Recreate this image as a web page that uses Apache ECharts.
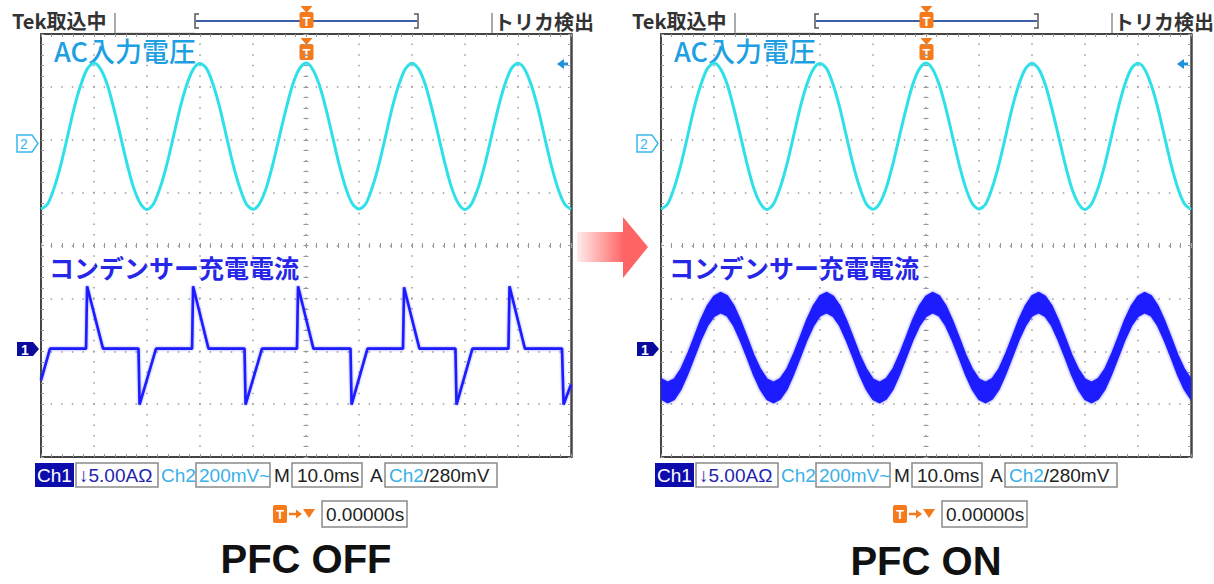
<!DOCTYPE html>
<html><head><meta charset="utf-8">
<script src="https://cdn.jsdelivr.net/npm/echarts@6/dist/echarts.min.js"></script>
<style>html,body{margin:0;padding:0;background:#fff}#c{width:1214px;height:584px}</style>
</head><body><div id="c"></div>
<script>
// ---------------- data ----------------
const sampleTimesMs = [-50,-48.75,-47.5,-46.25,-45,-43.75,-42.5,-41.25,-40,-38.75,-37.5,-36.25,-35,-33.75,-32.5,-31.25,-30,-28.75,-27.5,-26.25,-25,-23.75,-22.5,-21.25,-20,-18.75,-17.5,-16.25,-15,-13.75,-12.5,-11.25,-10,-8.75,-7.5,-6.25,-5,-3.75,-2.5,-1.25,0,1.25,2.5,3.75,5,6.25,7.5,8.75,10,11.25,12.5,13.75,15,16.25,17.5,18.75,20,21.25,22.5,23.75,25,26.25,27.5,28.75,30,31.25,32.5,33.75,35,36.25,37.5,38.75,40,41.25,42.5,43.75,45,46.25,47.5,48.75,50];
// Ch2: AC input voltage (mV, relative to Ch2 ground marker) - same in both panels
const ch2AcVoltageMv = [-252,-233,-171,-84,22,130,217,279,300,277,219,128,24,-82,-173,-231,-254,-232,-170,-83,23,131,218,277,298,279,217,130,22,-84,-171,-233,-253,-231,-172,-82,24,128,219,278,300,277,218,129,23,-83,-172,-232,-252,-233,-171,-84,22,130,217,278,299,278,219,128,24,-82,-173,-231,-254,-232,-171,-83,23,129,218,279,299,277,217,130,22,-84,-172,-232,-253];
// Ch1 PFC ON: capacitor charge current, centre of the switching-ripple band (A)
const ch1PfcOnCenterA = [-3.8,-4.15,-3.85,-2.9,-1.5,0.1,1.75,3.1,4.0,4.35,4.05,3.1,1.7,0.1,-1.55,-2.9,-3.85,-4.15,-3.8,-2.9,-1.5,0.1,1.75,3.1,4.05,4.35,4.0,3.1,1.7,0.1,-1.55,-2.9,-3.85,-4.15,-3.8,-2.9,-1.5,0.1,1.75,3.1,4.0,4.35,4.05,3.1,1.7,0.1,-1.55,-2.9,-3.85,-4.15,-3.8,-2.9,-1.5,0.1,1.75,3.1,4.05,4.35,4.0,3.1,1.7,0.1,-1.55,-2.9,-3.85,-4.15,-3.8,-2.9,-1.5,0.1,1.75,3.1,4.0,4.35,4.05,3.1,1.7,0.1,-1.55,-2.9,-3.85];
const ch1PfcOnRippleA = 0.95; // half height of the ripple band
// Ch1 PFC OFF: capacitor charge current (A)
const ch1PfcOffTimesMs = [-50,-48.3,-41.5,-41.3,-38.3,-31.6,-31.4,-28.3,-21.5,-21.3,-18.4,-11.6,-11.4,-8.3,-1.7,-1.5,1.4,8.4,8.6,11.6,18.3,18.5,21.4,28.2,28.4,31.4,38.2,38.4,41.3,48.3,48.6,50];
const ch1PfcOffCurrentA = [-3.0,0,0,5.9,0,0,-5.3,0,0,5.9,0,0,-5.3,0,0,5.9,0,0,-5.3,0,0,5.8,0,0,-5.3,0,0,5.9,0,0,-5.3,-3.4];

const panelTitles = ['PFC OFF', 'PFC ON'];
const traceLabels = ['AC入力電圧', 'コンデンサー充電電流'];
const headerLeft = 'Tek取込中';
const headerRight = 'トリカ検出';
const ch1Scale = '↓5.00AΩ';
const ch2Scale = '200mV~';
const timebase = '10.0ms';
const triggerLevel = '/280mV';
const triggerDelay = '0.00000s';

// scope settings
const msPerDiv = 10, ch2MvPerDiv = 200, ch1APerDiv = 5;
const ch2PosDiv = 1.95, ch1PosDiv = -1.95;

// ---------------- layout ----------------
const PANEL_DX = 620, G_LEFT = 41, G_TOP = 34, G_W = 530, G_H = 423;
const CH2_COLOR = '#2fe0e9', CH1_COLOR = '#1c1cff';
const FRAME = '#454545', DOT = '#9a9a9a', TICK = '#9a9a9a';
const FONT = "'Liberation Sans','Noto Sans CJK JP',sans-serif";
const JFONT = "'Noto Sans CJK JP','Liberation Sans',sans-serif";

const grids = [], xAxes = [], yAxes = [], series = [], graphics = [];

function tickSet(len) {
  return {
    axisTick: {show: true, inside: true, length: len, lineStyle: {color: TICK, width: 1}},
    minorTick: {show: true, splitNumber: 5, length: len, lineStyle: {color: TICK, width: 1}}
  };
}

// band table for the PFC ON ripple: [time, lower, upper]
const bandRows = sampleTimesMs.map((t, i) => [t, ch1PfcOnCenterA[i] - ch1PfcOnRippleA, ch1PfcOnCenterA[i] + ch1PfcOnRippleA]);

for (let p = 0; p < 2; p++) {
  const dx = PANEL_DX * p;
  grids.push({left: G_LEFT + dx, top: G_TOP, width: G_W, height: G_H, show: false, outerBoundsMode: 'none'});
  const xBase = {gridIndex: p, type: 'value', min: -5 * msPerDiv, max: 5 * msPerDiv, interval: msPerDiv, axisLabel: {show: false}};
  xAxes.push(Object.assign({}, xBase, {position: 'bottom',
    axisLine: {show: true, onZero: false, lineStyle: {color: FRAME, width: 2}},
    splitLine: {show: true, lineStyle: {color: DOT, width: 1.5, type: [1.5, 9.08], dashOffset: 0.75}}}, tickSet(3)));
  xAxes.push(Object.assign({}, xBase, {position: 'top',
    axisLine: {show: true, onZero: false, lineStyle: {color: FRAME, width: 2}},
    splitLine: {show: false}}, tickSet(3)));
  xAxes.push(Object.assign({}, xBase, {position: 'bottom', offset: -(G_H / 2 - 2.5),
    axisLine: {show: false, onZero: false}, splitLine: {show: false}}, tickSet(5)));

  const yBase = {gridIndex: p, type: 'value', min: -4, max: 4, interval: 1, axisLabel: {show: false}};
  yAxes.push(Object.assign({}, yBase, {position: 'left',
    axisLine: {show: true, onZero: false, lineStyle: {color: FRAME, width: 2}},
    splitLine: {show: true, lineStyle: {color: DOT, width: 1.5, type: [1.5, 9.1], dashOffset: 0.75}}}, tickSet(3)));
  yAxes.push(Object.assign({}, yBase, {position: 'right',
    axisLine: {show: true, onZero: false, lineStyle: {color: FRAME, width: 2.5}},
    splitLine: {show: false}}, tickSet(3)));
  yAxes.push(Object.assign({}, yBase, {position: 'left', offset: -(G_W / 2 - 2.5),
    axisLine: {show: false, onZero: false}, splitLine: {show: false}}, tickSet(5)));
  // hidden channel axes (physical units)
  yAxes.push({gridIndex: p, type: 'value', show: false,
    min: -(4 + ch2PosDiv) * ch2MvPerDiv, max: (4 - ch2PosDiv) * ch2MvPerDiv});
  yAxes.push({gridIndex: p, type: 'value', show: false,
    min: -(4 + ch1PosDiv) * ch1APerDiv, max: (4 - ch1PosDiv) * ch1APerDiv});

  const xi = 3 * p, yCh2 = 5 * p + 3, yCh1 = 5 * p + 4;
  series.push({type: 'line', xAxisIndex: xi, yAxisIndex: yCh2, silent: true, showSymbol: false, smooth: 0.3, z: 5,
    data: sampleTimesMs.map((t, i) => [t, ch2AcVoltageMv[i]]),
    lineStyle: {color: CH2_COLOR, width: 3}});
  if (p === 0) {
    series.push({type: 'line', xAxisIndex: xi, yAxisIndex: yCh1, silent: true, showSymbol: false, z: 4,
      data: ch1PfcOffTimesMs.map((t, i) => [t, ch1PfcOffCurrentA[i]]),
      lineStyle: {color: CH1_COLOR, width: 2.6, shadowColor: 'rgba(28,28,255,0.5)', shadowBlur: 2}});
  } else {
    series.push({type: 'custom', xAxisIndex: xi, yAxisIndex: yCh1, silent: true, z: 4, clip: true,
      data: bandRows, encode: {x: 0, y: [1, 2]},
      renderItem: function (params, api) {
        if (params.dataIndex !== 0) return null;
        const upper = bandRows.map(r => api.coord([r[0], r[2]]));
        const lower = bandRows.map(r => api.coord([r[0], r[1]])).reverse();
        return {type: 'polygon', shape: {points: upper.concat(lower)},
          style: {fill: CH1_COLOR, stroke: CH1_COLOR, lineWidth: 1.5, shadowColor: 'rgba(28,28,255,0.6)', shadowBlur: 3}};
      }});
  }

  // ----- decorations -----
  const T = (x, y, text, size, fill, extra) => ({type: 'text', x: x + dx, y: y,
    style: Object.assign({text: text, fontSize: size, fontFamily: FONT, fill: fill, verticalAlign: 'middle', align: 'left'}, extra || {})});
  const L = (x1, y1, x2, y2, color, w) => ({type: 'line', shape: {x1: x1 + dx, y1: y1, x2: x2 + dx, y2: y2}, style: {stroke: color, lineWidth: w}});
  const BOX = (x, y, w, h) => ({type: 'rect', shape: {x: x + dx, y: y, width: w, height: h}, style: {fill: 'none', stroke: '#8a8a8a', lineWidth: 1.5}});
  const ORANGE = '#f57a1c';
  const tMarker = (cx, yTri, yRect, h) => [
    {type: 'polygon', shape: {points: [[cx - 6 + dx, yTri], [cx + 6 + dx, yTri], [cx + dx, yRect + 1]]}, style: {fill: ORANGE}},
    {type: 'rect', shape: {x: cx - 7 + dx, y: yRect, width: 14, height: h, r: 2}, style: {fill: ORANGE}},
    {type: 'text', x: cx + dx, y: yRect + h / 2 + 1, style: {text: 'T', fontSize: 13, fontWeight: 'bold', fontFamily: FONT, fill: '#fff', align: 'center', verticalAlign: 'middle'}}
  ];

  graphics.push(T(12, 20, headerLeft, 20, '#333', {fontWeight: 'bold', fontFamily: JFONT}));
  graphics.push(L(115, 13, 115, 34, '#aaa', 2));
  graphics.push(L(115, 33, 195, 33, '#c8c8c8', 1));
  graphics.push(T(494, 21, headerRight, 20, '#333', {fontWeight: 'bold', fontFamily: JFONT}));
  graphics.push(L(492, 13, 492, 34, '#aaa', 2));
  graphics.push({type: 'polyline', shape: {points: [[199 + dx, 14], [195 + dx, 14], [195 + dx, 28], [199 + dx, 28]]}, style: {stroke: '#555', lineWidth: 1.5, fill: 'none'}});
  graphics.push({type: 'polyline', shape: {points: [[414 + dx, 14], [418 + dx, 14], [418 + dx, 28], [414 + dx, 28]]}, style: {stroke: '#555', lineWidth: 1.5, fill: 'none'}});
  graphics.push(L(196, 21, 417, 21, '#3d5fa8', 2));
  tMarker(306.5, 6, 12, 16).forEach(e => graphics.push(e));
  tMarker(306.5, 38, 44, 16).forEach(e => graphics.push(e));
  // trigger level arrow
  graphics.push({type: 'polygon', shape: {points: [[557 + dx, 64], [564 + dx, 59], [564 + dx, 69]]}, style: {fill: '#1e90dc'}});
  graphics.push({type: 'rect', shape: {x: 563 + dx, y: 62.5, width: 5, height: 3}, style: {fill: '#1e90dc'}});

  graphics.push(T(54, 50, traceLabels[0], 27, '#1e9fe2', {fontFamily: JFONT, fontWeight: 500}));
  graphics.push(T(49, 267, traceLabels[1], 25, '#2626e8', {fontFamily: JFONT, fontWeight: 'bold'}));

  // channel ground markers
  graphics.push({type: 'polygon', shape: {points: [[17 + dx, 135], [32 + dx, 135], [38 + dx, 143.5], [32 + dx, 152], [17 + dx, 152]]}, style: {fill: '#fff', stroke: '#3ab8ec', lineWidth: 1.5}});
  graphics.push(T(20, 144, '2', 14, '#3ab8ec'));
  graphics.push({type: 'polygon', shape: {points: [[17 + dx, 342], [33 + dx, 342], [39 + dx, 349], [33 + dx, 356], [17 + dx, 356]]}, style: {fill: '#0a0a9c'}});
  graphics.push(T(21, 349.5, '1', 14, '#fff', {fontWeight: 'bold'}));

  // status bar
  graphics.push({type: 'rect', shape: {x: 35 + dx, y: 463, width: 39, height: 24}, style: {fill: '#0c0cac'}});
  graphics.push(T(54.5, 475.5, 'Ch1', 19, '#fff', {align: 'center'}));
  graphics.push(BOX(76, 463, 82, 24));
  graphics.push(T(79, 475.5, ch1Scale, 19, '#2424b0'));
  graphics.push(T(161, 475.5, 'Ch2', 19, '#3ab0e8'));
  graphics.push(BOX(196, 463, 74, 24));
  graphics.push(T(199, 475.5, ch2Scale, 19, '#3ab0e8'));
  graphics.push(T(274, 475.5, 'M', 19, '#222'));
  graphics.push(BOX(292, 463, 70, 24));
  graphics.push(T(297, 475.5, timebase, 19, '#222'));
  graphics.push(T(370, 475.5, 'A', 19, '#222'));
  graphics.push(BOX(385, 463, 112, 24));
  graphics.push({type: 'text', x: 389 + dx, y: 475.5, style: {text: '{c|Ch2}{k|' + triggerLevel + '}', fontSize: 19, fontFamily: FONT, verticalAlign: 'middle',
    rich: {c: {fill: '#3ab0e8', fontSize: 19, fontFamily: FONT}, k: {fill: '#222', fontSize: 19, fontFamily: FONT}}}});
  // trigger delay row
  graphics.push({type: 'rect', shape: {x: 273 + dx, y: 505, width: 14, height: 18, r: 2}, style: {fill: ORANGE}});
  graphics.push(T(280, 514.5, 'T', 13, '#fff', {align: 'center', fontWeight: 'bold'}));
  graphics.push(L(289, 514, 299, 514, ORANGE, 2.5));
  graphics.push({type: 'polygon', shape: {points: [[296 + dx, 509.5], [302 + dx, 514], [296 + dx, 518.5]]}, style: {fill: ORANGE}});
  graphics.push({type: 'polygon', shape: {points: [[303 + dx, 509], [315 + dx, 509], [309 + dx, 518]]}, style: {fill: ORANGE}});
  graphics.push(BOX(322, 501, 85, 26));
  graphics.push(T(326, 514.5, triggerDelay, 19, '#222'));

  // panel title
  graphics.push({type: 'text', x: 306 + dx, y: 559 + 2 * p,
    style: {text: panelTitles[p], fontSize: 40, fontWeight: 'bold', fontFamily: FONT, fill: '#111', align: 'center', verticalAlign: 'middle'}});
}

// red arrow between the panels
graphics.push({type: 'rect', shape: {x: 577, y: 232, width: 47, height: 30},
  style: {fill: {type: 'linear', x: 0, y: 0, x2: 1, y2: 0, colorStops: [{offset: 0, color: 'rgba(255,100,100,0.12)'}, {offset: 1, color: 'rgba(255,100,100,1)'}]}}});
graphics.push({type: 'polygon', shape: {points: [[623, 217], [648, 247], [623, 278]]}, style: {fill: '#ff6464'}});

const chart = echarts.init(document.getElementById('c'), null, {renderer: 'svg'});
chart.setOption({
  animation: false,
  backgroundColor: '#fff',
  grid: grids, xAxis: xAxes, yAxis: yAxes, series: series,
  graphic: {elements: graphics}
});
</script></body></html>
